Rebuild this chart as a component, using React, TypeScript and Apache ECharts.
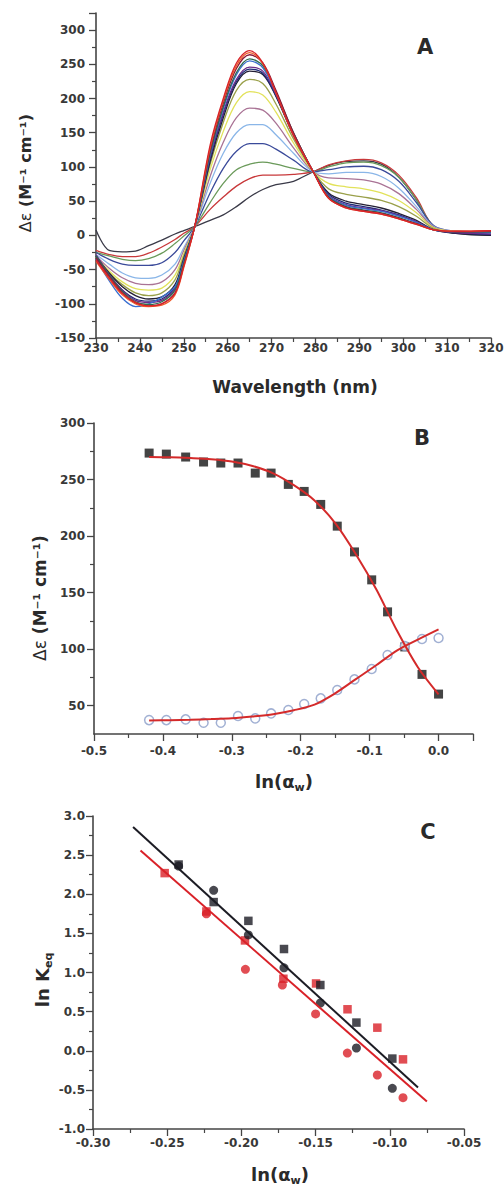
import React, { useEffect, useRef } from "react";
import * as echarts from "echarts";

// ---------- Panel A: CD spectra ----------
const wavelengths = [230, 233, 236, 239, 242, 245, 248, 250, 252.5, 256, 259, 262, 265, 268, 271, 275, 279.5, 283, 287, 291, 295, 299, 303, 307, 312, 320];
const specRed = [-36, -62, -85, -98, -103, -100, -85, -45, 13, 132, 200, 252, 270, 252, 208, 146, 93, 54, 40, 35, 31, 24, 16, 8, 6, 7];
const specOrange = [-38, -64, -87, -100, -104, -102, -87, -47, 13, 128, 197, 248, 267, 251, 208, 146, 93, 54, 40, 35, 31, 24, 16, 8, 6, 7];
const specMaroon = [-33, -60, -84, -99, -103, -100, -84, -44, 13, 124, 193, 244, 264, 252, 212, 150, 93, 55, 41, 36, 32, 25, 17, 8, 5, 6];
const specTeal = [-30, -58, -82, -97, -101, -97, -80, -40, 13, 120, 188, 238, 258, 248, 210, 150, 93, 56, 42, 37, 33, 26, 17, 8, 5, 5];
const specBlue = [-35, -66, -92, -104, -100, -90, -75, -38, 13, 118, 185, 235, 255, 245, 208, 149, 93, 57, 44, 39, 35, 28, 19, 8, 5, 4];
const specPurple = [-28, -57, -80, -95, -98, -95, -78, -38, 13, 115, 180, 228, 246, 240, 206, 148, 93, 58, 45, 40, 36, 29, 20, 8, 4, 2];
const specNavy = [-32, -58, -80, -93, -96, -93, -76, -36, 13, 112, 177, 225, 243, 237, 204, 147, 93, 60, 47, 42, 37, 30, 20, 8, 4, 1];
const specBlack = [-30, -55, -75, -88, -93, -90, -72, -34, 13, 108, 172, 222, 240, 235, 203, 146, 93, 62, 50, 45, 40, 32, 22, 8, 3, 0];
const specOlive = [-33, -55, -72, -84, -88, -84, -65, -30, 13, 104, 165, 212, 228, 222, 192, 141, 93, 68, 60, 56, 51, 42, 28, 10, 5, 5];
const specYellow = [-32, -52, -68, -78, -80, -77, -58, -27, 13, 96, 152, 194, 210, 205, 180, 135, 93, 76, 71, 68, 62, 51, 33, 11, 6, 5];
const specMauve = [-30, -48, -62, -70, -72, -68, -50, -22, 13, 86, 136, 172, 186, 183, 164, 128, 93, 84, 83, 81, 75, 61, 38, 12, 6, 5];
const specLightBlue = [-28, -42, -55, -62, -63, -58, -42, -18, 13, 76, 120, 150, 162, 162, 147, 120, 93, 90, 92, 92, 86, 69, 42, 13, 6, 5];
const specNavy2 = [-25, -35, -42, -44, -44, -40, -25, -8, 13, 62, 98, 123, 134, 134, 126, 110, 93, 96, 100, 101, 96, 79, 48, 14, 6, 4];
const specGreen = [-25, -30, -35, -37, -34, -26, -12, -1, 13, 48, 76, 96, 104, 107, 104, 98, 93, 100, 106, 107, 102, 85, 52, 13, 5, 5];
const specRed2 = [-22, -28, -31, -31, -26, -17, -6, 3, 13, 38, 56, 72, 83, 88, 88, 89, 93, 103, 109, 111, 106, 88, 55, 13, 5, 6];
const specGray = [8, -22, -24, -23, -15, -7, 2, 7, 13, 22, 30, 42, 56, 67, 74, 79, 93, 102, 108, 109, 104, 85, 52, 12, 3, 0];

const spectra = [specGray, specRed2, specGreen, specNavy2, specLightBlue, specMauve, specYellow, specOlive, specBlack, specNavy, specPurple, specBlue, specTeal, specMaroon, specOrange, specRed];
const spectraColors = ["#3a3a48", "#c8383a", "#6a9a5a", "#3a4a9a", "#8ab6e8", "#a97395", "#e2e25a", "#9aa04a", "#231f35", "#1f2d78", "#6b2d8a", "#3a6fd0", "#2f6b4f", "#8b1a3a", "#ef5a2a", "#d8232a"];

// ---------- Panel B ----------
const bX = [-0.42, -0.395, -0.367, -0.341, -0.316, -0.291, -0.266, -0.243, -0.218, -0.195, -0.171, -0.147, -0.122, -0.097, -0.074, -0.049, -0.024, 0.0];
const bSquares = [273.4, 272.5, 269.9, 265.5, 264.6, 264.6, 255.7, 255.7, 245.7, 239.5, 228, 208.8, 186, 161.3, 133, 102, 77.7, 60.3];
const bCircles = [37.3, 37.3, 37.9, 35, 35, 40.9, 38.8, 43.2, 46.2, 51.5, 56.5, 63.9, 73.3, 82.5, 94.9, 102.8, 109, 109.9];
const bFitX = [-0.42, -0.39, -0.36, -0.33, -0.3, -0.27, -0.24, -0.21, -0.18, -0.15, -0.12, -0.09, -0.06, -0.03, 0.0];
const bFitSquares = [270, 269.7, 269, 268, 266, 262, 255.5, 245, 231.5, 211.5, 184, 152.5, 116, 84, 60];
const bFitCircles = [37, 37.2, 37.6, 38.2, 39, 40.5, 42.5, 46, 51, 61, 73.5, 86, 99, 108.5, 117.5];
const bYLabels = [50, 100, 150, 200, 250, 300];
const bYMinor = [75, 125, 175, 225, 275];

// ---------- Panel C ----------
const cBlackX = [-0.2423, -0.2187, -0.1953, -0.1713, -0.1468, -0.1225, -0.0983];
const cBlackSquares = [2.38, 1.9, 1.66, 1.3, 0.84, 0.36, -0.1];
const cBlackCircles = [2.36, 2.05, 1.48, 1.06, 0.61, 0.035, -0.48];
const cRedSqX = [-0.2517, -0.2236, -0.1976, -0.1717, -0.1497, -0.1285, -0.1084, -0.0911];
const cRedSquares = [2.27, 1.78, 1.41, 0.92, 0.86, 0.53, 0.295, -0.11];
const cRedCirX = [-0.2236, -0.1973, -0.1724, -0.15, -0.1286, -0.1084, -0.0911];
const cRedCircles = [1.75, 1.04, 0.84, 0.47, -0.03, -0.31, -0.6];
const cBlackFitX = [-0.273, -0.081];
const cBlackFitY = [2.86, -0.47];
const cRedFitX = [-0.268, -0.075];
const cRedFitY = [2.56, -0.65];

const pairs = (xs: number[], ys: number[]) => xs.map((x, i) => [x, ys[i]]);

const AXIS_COLOR = "#454545";
const LABEL_COLOR = "#383838";
const FONT = "DejaVu Sans";

const baseAxis = (extra: any) => ({
  type: "value",
  axisLine: { show: true, onZero: false, lineStyle: { color: AXIS_COLOR, width: 1.6 } },
  axisTick: { show: true, inside: false, length: 7, lineStyle: { color: AXIS_COLOR, width: 1.3 } },
  minorTick: { show: true, splitNumber: 2, length: 4, lineStyle: { color: AXIS_COLOR, width: 1.2 } },
  splitLine: { show: false },
  minorSplitLine: { show: false },
  ...extra,
  axisLabel: {
    color: LABEL_COLOR,
    fontFamily: FONT,
    fontWeight: "bold",
    fontSize: 12,
    ...(extra.axisLabel || {}),
  },
});

export default function App() {
  const ref = useRef<HTMLDivElement>(null);
  useEffect(() => {
    document.body.style.margin = "0";
    if (!ref.current) return;
    const chart = echarts.init(ref.current, undefined, { renderer: "svg" });

    const series: any[] = [];
    spectra.forEach((s, i) => {
      series.push({
        type: "line",
        xAxisIndex: 0,
        yAxisIndex: 0,
        data: pairs(wavelengths, s),
        showSymbol: false,
        smooth: 0.35,
        lineStyle: { color: spectraColors[i], width: 1.3 },
        silent: true,
      });
    });

    // Panel B
    series.push({
      type: "line", xAxisIndex: 1, yAxisIndex: 1, data: pairs(bFitX, bFitSquares),
      showSymbol: false, smooth: 0.3, lineStyle: { color: "#d42a2a", width: 2 },
    });
    series.push({
      type: "line", xAxisIndex: 1, yAxisIndex: 1, data: pairs(bFitX, bFitCircles),
      showSymbol: false, smooth: 0.3, lineStyle: { color: "#d42a2a", width: 2 },
    });
    series.push({
      type: "scatter", xAxisIndex: 1, yAxisIndex: 1, data: pairs(bX, bSquares),
      symbol: "rect", symbolSize: 9, itemStyle: { color: "#151515" },
    });
    series.push({
      type: "scatter", xAxisIndex: 1, yAxisIndex: 1, data: pairs(bX, bCircles),
      symbol: "circle", symbolSize: 9,
      itemStyle: { color: "#ffffff", borderColor: "#8a9cc8", borderWidth: 1.5 },
    });

    // Panel C
    series.push({
      type: "line", xAxisIndex: 2, yAxisIndex: 2, data: pairs(cBlackFitX, cBlackFitY),
      showSymbol: false, lineStyle: { color: "#1c1c24", width: 2 },
    });
    series.push({
      type: "line", xAxisIndex: 2, yAxisIndex: 2, data: pairs(cRedFitX, cRedFitY),
      showSymbol: false, lineStyle: { color: "#d92128", width: 2 },
    });
    series.push({
      type: "scatter", xAxisIndex: 2, yAxisIndex: 2, data: pairs(cRedSqX, cRedSquares),
      symbol: "rect", symbolSize: 8.5, itemStyle: { color: "#d92128" },
    });
    series.push({
      type: "scatter", xAxisIndex: 2, yAxisIndex: 2, data: pairs(cRedCirX, cRedCircles),
      symbol: "circle", symbolSize: 9, itemStyle: { color: "#d92128" },
    });
    series.push({
      type: "scatter", xAxisIndex: 2, yAxisIndex: 2, data: pairs(cBlackX, cBlackCircles),
      symbol: "circle", symbolSize: 9, itemStyle: { color: "#1c1c24" },
    });
    series.push({
      type: "scatter", xAxisIndex: 2, yAxisIndex: 2, data: pairs(cBlackX, cBlackSquares),
      symbol: "rect", symbolSize: 8.5, itemStyle: { color: "#1c1c24" },
    });

    const titleStyle = (text: string, size: number, rich?: any) => ({
      text, fontFamily: FONT, fontWeight: "bold", fontSize: size, fill: "#2a2a2a",
      align: "center", verticalAlign: "middle", ...(rich ? { rich } : {}),
    });

    const richSub = (size: number) => ({
      m: { fontFamily: FONT, fontWeight: "bold", fontSize: size, fill: "#2a2a2a", lineHeight: size + 6, verticalAlign: "middle" },
      s: { fontFamily: FONT, fontWeight: "bold", fontSize: Math.round(size * 0.62), fill: "#2a2a2a", lineHeight: size + 6, verticalAlign: "bottom" },
      n: { fontFamily: FONT, fontWeight: "normal", fontSize: size, fill: "#2a2a2a", lineHeight: size + 6, verticalAlign: "middle" },
    });

    const option: any = {
      animation: false,
      grid: [
        { left: 96, top: 13, width: 395, height: 325, containLabel: false, outerBoundsMode: "none" },
        { left: 94, top: 423, width: 379, height: 311, containLabel: false, outerBoundsMode: "none" },
        { left: 93, top: 816, width: 371, height: 313, containLabel: false, outerBoundsMode: "none" },
        // overlay grid on panel B carrying only its minor y ticks
        { left: 94, top: 423, width: 379, height: 311, containLabel: false, outerBoundsMode: "none" },
      ],
      xAxis: [
        baseAxis({ gridIndex: 0, min: 230, max: 320, interval: 10, axisLabel: { margin: 4 } }),
        baseAxis({
          gridIndex: 1, min: -0.5, max: 0.05, interval: 0.1,
          axisLabel: { margin: 11, showMaxLabel: false, formatter: (v: number) => v.toFixed(1) },
        }),
        baseAxis({
          gridIndex: 2, min: -0.3, max: -0.05, interval: 0.05,
          axisLabel: { margin: 8, formatter: (v: number) => v.toFixed(2) },
        }),
        { type: "value", gridIndex: 3, min: -0.5, max: 0.05, interval: 0.1, show: false },
      ],
      yAxis: [
        baseAxis({ gridIndex: 0, min: -150, max: 325, interval: 50, axisLabel: { margin: 11, showMaxLabel: false } }),
        baseAxis({
          gridIndex: 1, min: 25, max: 300, interval: 25, minorTick: { show: false },
          axisTick: { show: true, inside: false, length: 7, customValues: bYLabels, lineStyle: { color: AXIS_COLOR, width: 1.3 } },
          axisLabel: { margin: 9, customValues: bYLabels },
        }),
        baseAxis({
          gridIndex: 2, min: -1, max: 3, interval: 0.5,
          axisLabel: { margin: 8, formatter: (v: number) => v.toFixed(1) },
        }),
        baseAxis({
          gridIndex: 3, min: 25, max: 300, interval: 25, position: "left", minorTick: { show: false },
          axisLine: { show: false, onZero: false },
          axisTick: { show: true, inside: false, length: 4, customValues: bYMinor, lineStyle: { color: AXIS_COLOR, width: 1.2 } },
          axisLabel: { show: false },
        }),
      ],
      graphic: [
        { type: "text", x: 425, y: 47, style: titleStyle("A", 21) },
        { type: "text", x: 422, y: 438, style: titleStyle("B", 21) },
        { type: "text", x: 428, y: 832, style: titleStyle("C", 21) },
        { type: "text", x: 295, y: 387, style: titleStyle("Wavelength (nm)", 17) },
        {
          type: "text", x: 25, y: 173, rotation: Math.PI / 2,
          style: titleStyle("{n|Δε} {m|(M⁻¹ cm⁻¹)}", 16, richSub(16)),
        },
        {
          type: "text", x: 40, y: 598, rotation: Math.PI / 2,
          style: titleStyle("{n|Δε} {m|(M⁻¹ cm⁻¹)}", 17, richSub(17)),
        },
        { type: "text", x: 284, y: 781, style: titleStyle("{m|ln(α}{s|w}{m|)}", 18, richSub(18)) },
        {
          type: "text", x: 42, y: 980, rotation: Math.PI / 2,
          style: titleStyle("{m|ln K}{s|eq}", 18, richSub(18)),
        },
        { type: "text", x: 280, y: 1174, style: titleStyle("{m|ln(α}{s|w}{m|)}", 18, richSub(18)) },
      ],
      series,
    };

    chart.setOption(option);
    return () => chart.dispose();
  }, []);

  return <div ref={ref} style={{ width: 504, height: 1190, background: "#ffffff" }} />;
}
